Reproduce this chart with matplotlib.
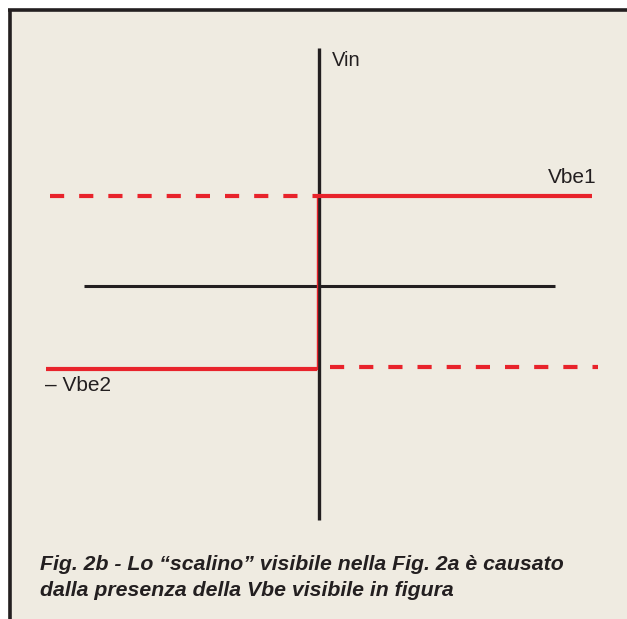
import matplotlib.pyplot as plt

# Levels and extents, in pixels relative to the axis crossing
vbe1 = 90          # upper threshold
vbe2 = 83          # lower threshold (drawn negative)
h_axis = [-235, 236]
v_axis = [-234, 238]
upper_solid = [0, 273]
upper_dashed = [-269, 0]
lower_solid = [-273, -2]
lower_dashed = [11, 279]
labels = ["Vin", "Vbe1", "\u2013 Vbe2"]
caption = ["Fig. 2b - Lo \u201cscalino\u201d visibile nella Fig. 2a \u00e8 causato",
           "dalla presenza della Vbe visibile in figura"]

bg = "#efebe1"
red = "#e8232b"
ink = "#231f20"
ox, oy = 319, 286

fig = plt.figure(figsize=(6.27, 6.19), dpi=100)
fig.patch.set_facecolor("white")
ax = fig.add_axes([0, 0, 1, 1])
ax.set_xlim(-ox, 627 - ox)
ax.set_ylim(oy - 619, oy)
ax.axis("off")

# panel with border on top and left
ax.add_patch(plt.Rectangle((8 - ox, oy - 619), 700, 619 - 10, facecolor=bg, edgecolor="none"))
ax.plot([9.5 - ox, 9.5 - ox], [oy - 620, oy - 10.5], color=ink, lw=2.6, solid_capstyle="butt")
ax.plot([8 - ox, 627 - ox], [oy - 10.5, oy - 10.5], color=ink, lw=2.6, solid_capstyle="butt")

# axes
ax.plot(h_axis, [0, 0], color=ink, lw=2.2, solid_capstyle="butt")
ax.plot([0, 0], v_axis, color=ink, lw=2.4, solid_capstyle="butt")

# step characteristic
ax.plot(upper_solid, [vbe1, vbe1], color=red, lw=3, solid_capstyle="butt")
ax.plot(upper_dashed, [vbe1, vbe1], color=red, lw=3, dashes=(3.4, 3.6))
ax.plot(lower_solid, [-vbe2, -vbe2], color=red, lw=3, solid_capstyle="butt")
ax.plot(lower_dashed, [-vbe2 + 2, -vbe2 + 2], color=red, lw=3, dashes=(3.4, 3.6))
ax.plot([-2, -2], [-vbe2, vbe1], color=red, lw=1.0)

font = dict(family=["Liberation Sans", "DejaVu Sans"], color=ink)
ax.text(332 - ox, oy - 60, labels[0], fontsize=14.5, va="center", ha="left", **font)
ax.text(597 - ox, oy - 178, labels[1], fontsize=15, va="center", ha="right", **font)
ax.text(45 - ox, oy - 386, labels[2], fontsize=15, va="center", ha="left", **font)

ax.text(40 - ox, oy - 565, caption[0], fontsize=15.3, fontweight="bold", style="italic",
        va="center", ha="left", **font)
ax.text(40 - ox, oy - 590, caption[1], fontsize=15.3, fontweight="bold", style="italic",
        va="center", ha="left", **font)

fig.savefig("out.png", dpi=100, facecolor=fig.get_facecolor())
